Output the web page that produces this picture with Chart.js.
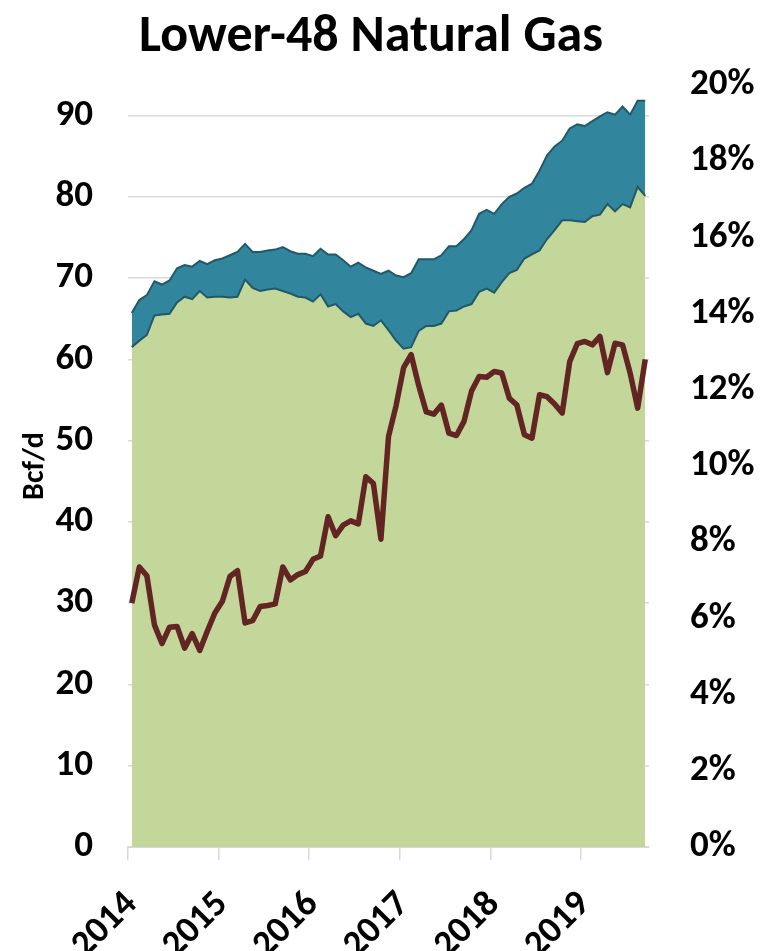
<!DOCTYPE html>
<html>
<head>
<meta charset="utf-8">
<script src="https://cdn.jsdelivr.net/npm/chart.js@4.4.1/dist/chart.umd.min.js"></script>
<style>
html,body{margin:0;padding:0;background:#ffffff;}
#wrap{width:768px;height:951px;}
</style>
</head>
<body>
<div id="wrap"><canvas id="c" width="768" height="951"></canvas></div>
<script>
// Categories: monthly, Jan 2014 - Sep 2019
const months = [
  'Jan 2014','Feb 2014','Mar 2014','Apr 2014','May 2014','Jun 2014','Jul 2014','Aug 2014','Sep 2014','Oct 2014','Nov 2014','Dec 2014',
  'Jan 2015','Feb 2015','Mar 2015','Apr 2015','May 2015','Jun 2015','Jul 2015','Aug 2015','Sep 2015','Oct 2015','Nov 2015','Dec 2015',
  'Jan 2016','Feb 2016','Mar 2016','Apr 2016','May 2016','Jun 2016','Jul 2016','Aug 2016','Sep 2016','Oct 2016','Nov 2016','Dec 2016',
  'Jan 2017','Feb 2017','Mar 2017','Apr 2017','May 2017','Jun 2017','Jul 2017','Aug 2017','Sep 2017','Oct 2017','Nov 2017','Dec 2017',
  'Jan 2018','Feb 2018','Mar 2018','Apr 2018','May 2018','Jun 2018','Jul 2018','Aug 2018','Sep 2018','Oct 2018','Nov 2018','Dec 2018',
  'Jan 2019','Feb 2019','Mar 2019','Apr 2019','May 2019','Jun 2019','Jul 2019','Aug 2019','Sep 2019'
];

// Lower (green) area, Bcf/d
const baseGas = [
  61.5,62.3,63.0,65.4,65.5,65.6,67.0,67.7,67.4,68.4,67.6,67.7,
  67.7,67.6,67.7,69.8,68.8,68.4,68.6,68.7,68.4,68.1,67.7,67.6,
  67.1,68.0,66.5,66.8,65.9,65.2,65.6,64.4,64.1,64.8,63.6,62.3,
  61.3,61.5,63.5,64.1,64.1,64.4,65.9,66.0,66.5,66.8,68.3,68.7,
  68.2,69.5,70.6,71.0,72.4,72.9,73.4,74.8,75.9,77.1,77.1,77.0,
  76.9,77.6,77.8,79.1,78.2,79.1,78.7,81.2,80.1
];

// Total (top of teal area), Bcf/d
const totalGas = [
  65.7,67.3,67.9,69.6,69.2,69.7,71.2,71.6,71.4,72.1,71.7,72.2,
  72.4,72.8,73.2,74.2,73.2,73.2,73.4,73.5,73.8,73.3,73.0,73.0,
  72.7,73.6,72.9,72.9,72.2,71.4,71.9,71.3,70.9,70.5,70.9,70.3,
  70.1,70.6,72.3,72.3,72.3,72.8,73.9,73.9,74.8,75.9,77.9,78.4,
  77.9,79.1,80.0,80.4,81.1,81.6,83.2,85.1,86.2,86.9,88.4,88.9,
  88.7,89.3,89.9,90.4,90.1,91.1,90.1,91.8,91.8
];

// Line on right axis, %
const sharePct = [
  6.40,7.35,7.12,5.83,5.34,5.77,5.79,5.22,5.60,5.16,5.66,6.14,
  6.45,7.10,7.25,5.88,5.94,6.31,6.34,6.38,7.35,7.01,7.15,7.23,
  7.55,7.64,8.67,8.17,8.45,8.56,8.48,9.72,9.54,8.08,10.77,11.58,
  12.58,12.92,12.11,11.42,11.36,11.60,10.86,10.80,11.17,11.97,12.35,12.33,
  12.48,12.44,11.78,11.60,10.82,10.73,11.87,11.82,11.63,11.39,12.74,13.21,
  13.27,13.18,13.40,12.45,13.22,13.18,12.44,11.52,12.80
];

const FONT = "Carlito, Calibri, Lato, sans-serif";
Chart.defaults.font.family = FONT;

// shift the title block slightly left (the reference title is centred left of the canvas centre)
const titleShift = {
  id: 'titleShift',
  afterLayout(chart) {
    const t = chart.titleBlock;
    if (t) { t.left -= 13; t.right -= 13; }
  }
};

new Chart(document.getElementById('c').getContext('2d'), {
  type: 'line',
  data: {
    labels: months,
    datasets: [
      {
        label: 'Lower', data: baseGas, yAxisID: 'y', fill: 'origin',
        backgroundColor: '#c4d79b', borderColor: '#215968', borderWidth: 2,
        pointRadius: 0, tension: 0, order: 1
      },
      {
        label: 'Total', data: totalGas, yAxisID: 'y', fill: '-1',
        backgroundColor: '#31859c', borderColor: '#215968', borderWidth: 2,
        pointRadius: 0, tension: 0, order: 2
      },
      {
        label: 'Share', data: sharePct, yAxisID: 'y1', fill: false,
        borderColor: '#632523', borderWidth: 5.5, borderJoinStyle: 'round',
        pointRadius: 0, tension: 0, order: 0
      }
    ]
  },
  plugins: [titleShift],
  options: {
    responsive: false,
    animation: false,
    devicePixelRatio: 1,
    layout: { padding: { left: 0, right: 0, top: 0, bottom: 0 } },
    plugins: {
      legend: { display: false },
      tooltip: { enabled: false },
      title: {
        display: true, text: 'Lower-48 Natural Gas', color: '#000000',
        font: { size: 52, weight: 'bold', family: FONT },
        padding: { top: 7, bottom: 15.6 }
      }
    },
    scales: {
      x: {
        type: 'category',
        offset: true,
        grid: {
          offset: true, drawOnChartArea: false, drawTicks: true, tickLength: 13, lineWidth: 1.5,
          color: (ctx) => (months[ctx.index] && months[ctx.index].startsWith('Jan')) ? '#d9d9d9' : 'rgba(0,0,0,0)'
        },
        border: { display: true, color: '#d9d9d9', width: 2 },
        ticks: {
          autoSkip: false, maxRotation: 45, minRotation: 45, padding: 23,
          color: '#000000', font: { size: 37, weight: 'bold' },
          callback: function (v, i) {
            const lab = months[i];
            return lab.startsWith('Jan') ? lab.slice(4) : '';
          }
        },
        afterFit: (s) => { s.height = 104; }
      },
      y: {
        position: 'left', min: 0, max: 93.75,
        ticks: { stepSize: 10, includeBounds: false, padding: 35, color: '#000000', font: { size: 37, weight: 'bold' } },
        grid: { color: '#d9d9d9', lineWidth: 1.5, drawTicks: false },
        border: { display: false },
        title: { display: true, text: 'Bcf/d', color: '#000000', font: { size: 30, weight: 'bold' }, padding: { top: 17, bottom: 0 } },
        afterFit: (s) => { s.width = 128; }
      },
      y1: {
        position: 'right', min: 0, max: 20,
        ticks: { stepSize: 2, includeBounds: false, padding: 41, color: '#000000', font: { size: 37, weight: 'bold' }, callback: (v) => v + '%' },
        grid: { drawOnChartArea: false, drawTicks: false },
        border: { display: false },
        afterFit: (s) => { s.width = 119; }
      }
    }
  }
});
</script>
</body>
</html>
